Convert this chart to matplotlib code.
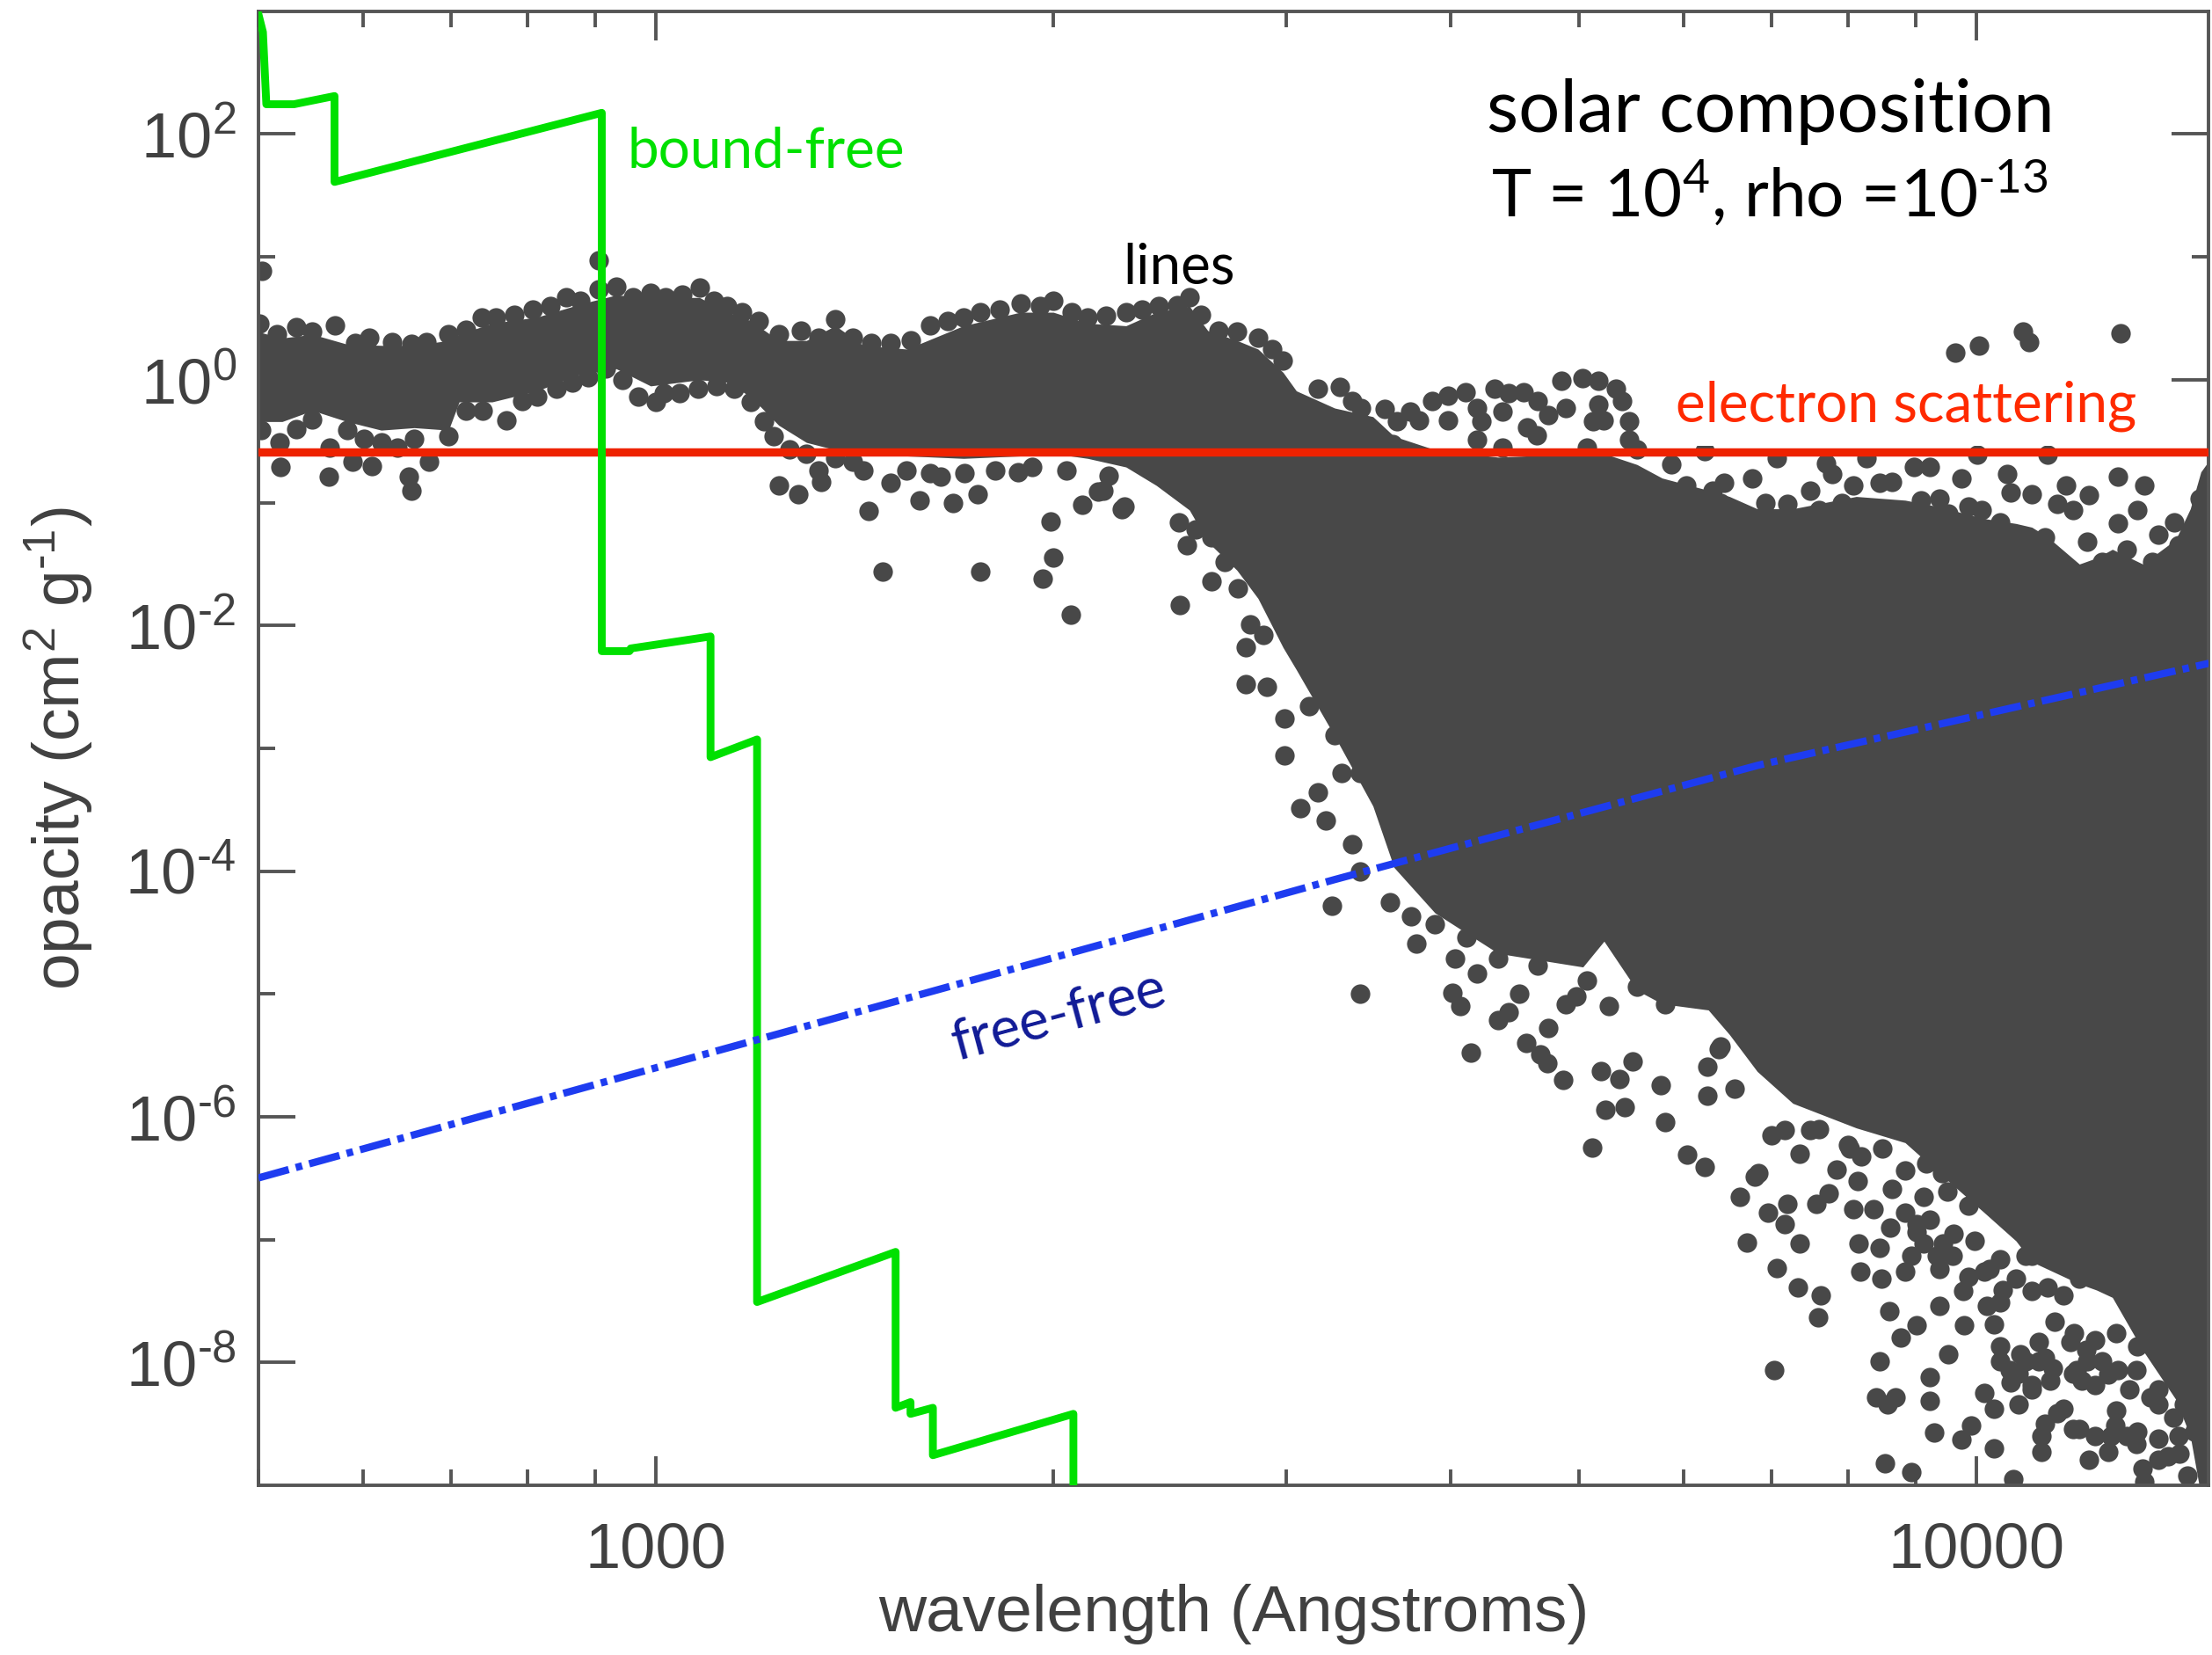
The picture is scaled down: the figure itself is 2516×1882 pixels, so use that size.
import numpy as np
import matplotlib
matplotlib.use('Agg')
from matplotlib import pyplot as plt
from matplotlib import ticker

plt.rcParams['font.family'] = ['Liberation Sans', 'DejaVu Sans']
plt.rcParams['mathtext.fontset'] = 'custom'
plt.rcParams['mathtext.rm'] = 'Liberation Sans'
plt.rcParams['mathtext.default'] = 'regular'

# electron scattering opacity (cm^2/g)
kappa_es = 0.26

# free-free opacity along the curve
ff_lam = [500, 858, 2338, 3265, 6836, 15000]
ff_kappa = [3.18e-7, 1.59e-6, 3.14e-5, 8.53e-5, 7.28e-4, 4.92e-3]

# bound-free opacity: corners of the edge staircase
bf_lam = [500, 504, 507, 532, 571, 571, 910, 910, 955, 957, 1100, 1100,
          1193, 1193, 1519, 1519, 1559, 1559, 1621, 1621, 2071, 2071]
bf_kappa = [950, 676, 175, 175, 204, 40.8, 149, 6.18e-3, 6.18e-3, 6.5e-3,
            8.14e-3, 8.47e-4, 1.18e-3, 3.11e-8, 7.95e-8, 4.28e-9, 4.76e-9,
            3.82e-9, 4.28e-9, 1.76e-9, 3.82e-9, 1e-10]

# line opacity: the solid core of the point cloud (log10 lambda, log10 kappa)
core_loglam = [2.699, 2.717, 2.740, 2.766, 2.792, 2.817, 2.843, 2.851, 2.876, 2.910,
               2.944, 2.970, 2.996, 3.033, 3.054, 3.072, 3.093, 3.114, 3.136, 3.157,
               3.190, 3.233, 3.276, 3.301, 3.327, 3.356, 3.379, 3.404, 3.418, 3.440,
               3.456, 3.475, 3.485, 3.514, 3.543, 3.559, 3.590, 3.638, 3.702, 3.718,
               3.743, 3.762, 3.797, 3.813, 3.834, 3.861, 3.909, 3.946, 3.970, 4.006,
               4.030, 4.042, 4.054, 4.078, 4.091, 4.103, 4.126, 4.151, 4.162, 4.170,
               4.180]
core_logtop = [0.39, 0.34, 0.37, 0.29, 0.28, 0.28, 0.32, 0.37, 0.46, 0.51,
               0.62, 0.69, 0.67, 0.67, 0.55, 0.48, 0.32, 0.32, 0.44, 0.28,
               0.25, 0.44, 0.55, 0.55, 0.46, 0.44, 0.55, 0.60, 0.40, 0.32,
               0.25, 0.06, -0.09, -0.23, -0.30, -0.46, -0.57, -0.63, -0.60, -0.60,
               -0.69, -0.80, -0.90, -0.95, -1.05, -1.05, -0.95, -0.98, -1.03, -1.13,
               -1.17, -1.20, -1.28, -1.50, -1.45, -1.38, -1.50, -1.30, -1.05, -0.75,
               -0.60]
core_logbot = [-0.34, -0.34, -0.25, -0.34, -0.41, -0.39, -0.41, -0.18, -0.18, -0.09,
               0.05, 0.09, -0.05, 0.00, -0.02, -0.14, -0.37, -0.51, -0.57, -0.60,
               -0.62, -0.64, -0.62, -0.60, -0.64, -0.71, -0.86, -1.06, -1.32, -1.55,
               -1.78, -2.18, -2.36, -2.90, -3.47, -3.97, -4.34, -4.67, -4.78, -4.57,
               -4.97, -5.08, -5.13, -5.33, -5.63, -5.89, -6.09, -6.21, -6.44, -6.78,
               -7.01, -7.18, -7.24, -7.36, -7.41, -7.47, -7.90, -8.30, -8.60, -9.08,
               -9.08]

# individual lines around the core (log10 lambda, log10 kappa)
band_top = [
    [2.702, 0.89], [2.700, 0.46], [2.713, 0.37], [2.728, 0.43], [2.740, 0.39], [2.757, 0.44],
    [2.772, 0.30], [2.783, 0.34], [2.800, 0.31], [2.815, 0.29], [2.826, 0.31], [2.843, 0.37],
    [2.856, 0.41], [2.868, 0.51], [2.879, 0.51], [2.893, 0.53], [2.907, 0.57], [2.920, 0.60],
    [2.932, 0.67], [2.943, 0.64], [2.957, 0.74], [2.970, 0.76], [2.983, 0.67], [2.996, 0.71],
    [3.007, 0.67], [3.020, 0.69], [3.033, 0.75], [3.044, 0.64], [3.054, 0.60], [3.065, 0.55],
    [3.078, 0.48], [3.093, 0.37], [3.110, 0.40], [3.123, 0.34], [3.136, 0.49], [3.149, 0.34],
    [3.163, 0.30], [3.178, 0.30], [3.193, 0.32], [3.208, 0.44], [3.221, 0.48], [3.233, 0.51],
    [3.246, 0.55], [3.260, 0.57], [3.276, 0.62], [3.291, 0.60], [3.301, 0.64], [3.315, 0.55],
    [3.327, 0.51], [3.341, 0.52], [3.356, 0.55], [3.368, 0.57], [3.381, 0.60], [3.395, 0.61],
    [3.404, 0.67], [3.413, 0.53], [3.426, 0.40], [3.440, 0.39], [3.456, 0.34], [3.467, 0.25],
    [3.475, 0.16], [2.957, 0.97]]

band_bottom = [
    [2.701, -0.41], [2.716, -0.71], [2.715, -0.51], [2.728, -0.40], [2.740, -0.32], [2.753, -0.55],
    [2.752, -0.79], [2.766, -0.41], [2.770, -0.67], [2.779, -0.48], [2.785, -0.70], [2.792, -0.51],
    [2.804, -0.55], [2.813, -0.79], [2.815, -0.90], [2.817, -0.48], [2.828, -0.67], [2.843, -0.46],
    [2.856, -0.25], [2.869, -0.25], [2.887, -0.33], [2.899, -0.17], [2.910, -0.14], [2.925, -0.07],
    [2.937, -0.02], [2.949, 0.02], [2.962, 0.09], [2.975, 0.00], [2.987, -0.14], [3.000, -0.18],
    [3.006, -0.11], [3.018, -0.11], [3.032, -0.07], [3.046, -0.05], [3.059, -0.07], [3.072, -0.18],
    [3.082, -0.34], [3.089, -0.46], [3.093, -0.86], [3.101, -0.57], [3.108, -0.93], [3.114, -0.60],
    [3.123, -0.74], [3.125, -0.83], [3.136, -0.64], [3.149, -0.67], [3.161, -1.07], [3.157, -0.74],
    [3.172, -1.56], [3.178, -0.84], [3.190, -0.74], [3.200, -0.98], [3.208, -0.76], [3.216, -0.79],
    [3.225, -1.00], [3.234, -0.76], [3.244, -0.93], [3.246, -1.56], [3.257, -0.74], [3.274, -0.75],
    [3.285, -0.71], [3.293, -1.62], [3.299, -1.15], [3.301, -1.45], [3.314, -1.91], [3.311, -0.74],
    [3.323, -1.02], [3.335, -0.91], [3.343, -0.78], [3.353, -1.05]]

drop_edge = [
    [3.393, -0.87], [3.396, -1.16], [3.409, -0.97], [3.402, -1.35], [3.421, -1.64], [3.397, -1.83],
    [3.441, -1.70], [3.450, -1.99], [3.447, -2.18], [3.460, -2.08], [3.447, -2.48], [3.463, -2.50],
    [3.476, -2.76], [3.476, -3.06], [3.495, -2.66], [3.514, -2.89], [3.519, -3.20], [3.488, -3.49],
    [3.507, -3.59], [3.527, -3.78], [3.533, -4.00], [3.533, -3.20], [3.501, -3.36], [3.421, -1.28],
    [3.431, -1.48], [3.355, -1.03], [3.339, -0.90], [3.409, -1.22]]

cloud_top = [
    [3.501, -0.07], [3.527, -0.17], [3.552, -0.24], [3.571, -0.26], [3.578, -0.33], [3.600, -0.13],
    [3.613, -0.10], [3.600, -0.33], [3.622, -0.23], [3.635, -0.07], [3.641, -0.26], [3.657, -0.10],
    [3.660, -0.39], [3.676, -0.29], [3.667, -0.45], [3.686, -0.01], [3.702, 0.01], [3.714, -0.01],
    [3.727, -0.07], [3.714, -0.20], [3.718, -0.33], [3.737, -0.34], [3.737, -0.49], [3.705, -0.55],
    [3.622, -0.49], [3.641, -0.55], [3.558, -0.52], [3.543, -0.45], [3.794, -0.58],
    [3.518, -0.06], [3.534, -0.23], [3.561, -0.34], [3.588, -0.17], [3.625, -0.34], [3.646, -0.11],
    [3.668, -0.17], [3.689, -0.23], [3.710, -0.34], [3.732, -0.17], [3.743, -0.57], [3.769, -0.69],
    [3.780, -0.86],
    [3.546, -0.71], [3.571, -0.77], [3.587, -0.90], [3.584, -0.68], [3.616, -0.90], [3.622, -1.03],
    [3.648, -0.84], [3.654, -1.03], [3.680, -0.77], [3.673, -0.93], [3.702, -0.84], [3.718, -0.74],
    [3.730, -0.93], [3.749, -0.84], [3.753, -1.06], [3.775, -1.06], [3.788, -1.03], [3.800, -0.90],
    [3.810, -1.03], [3.762, -1.28], [3.794, -1.28], [3.813, -1.22], [3.680, -1.12],
    [3.849, -0.64], [3.886, -0.68], [3.891, -0.77], [3.874, -0.90], [3.840, -1.00], [3.806, -1.00],
    [3.898, -1.00], [3.917, -0.64], [3.927, -0.84], [3.941, -1.09], [3.953, -0.71], [3.965, -0.71],
    [3.972, -0.97], [4.001, -0.61], [4.023, -0.77], [4.042, -0.93], [4.054, -0.61], [4.107, -0.79],
    [4.107, -1.17], [4.073, -1.06], [4.004, -1.06], [4.018, -1.16], [4.150, -1.16], [4.169, -0.97],
    [3.984, 0.22], [4.002, 0.28], [4.035, 0.39], [4.040, 0.31], [4.109, 0.38],
    [3.862, -1.19], [3.838, -1.28], [3.816, -1.25], [3.903, -1.22], [3.936, -1.35], [3.958, -1.16],
    [3.979, -1.09], [3.996, -1.35], [4.013, -1.28], [4.035, -1.35], [4.052, -1.28], [4.066, -1.54],
    [4.073, -1.70], [4.071, -1.92], [4.095, -1.48], [4.114, -1.38], [4.121, -1.60], [4.133, -1.48],
    [4.143, -1.76], [4.153, -1.35], [4.090, -1.76], [4.056, -1.86], [4.102, -1.92],
    [3.809, -0.84], [3.830, -0.80], [3.907, -0.86], [3.936, -0.83], [3.989, -0.80], [4.026, -0.92],
    [4.068, -0.86], [3.857, -1.01], [3.881, -1.06], [3.915, -1.09], [3.958, -0.98], [3.994, -1.03],
    [4.061, -1.01], [4.085, -0.94], [4.122, -1.06], [4.138, -1.26], [4.084, -1.32], [4.127, -0.86]]

cloud_bottom = [
    [3.512, -4.28], [3.533, -5.00], [3.576, -4.59], [3.605, -4.71], [3.603, -4.99], [3.609, -5.10],
    [3.617, -5.48], [3.622, -4.83], [3.638, -5.21], [3.646, -5.15], [3.654, -5.00], [3.659, -5.40],
    [3.670, -5.49], [3.675, -5.56], [3.676, -5.28], [3.687, -5.70], [3.689, -5.08], [3.697, -5.02],
    [3.705, -4.89], [3.709, -6.25], [3.716, -5.63], [3.719, -5.94], [3.722, -5.10], [3.730, -5.69],
    [3.734, -5.92], [3.740, -5.55], [3.761, -5.74], [3.764, -6.04], [3.781, -6.31], [3.794, -6.41],
    [3.796, -5.83], [3.796, -5.59], [3.805, -5.45], [3.821, -6.65], [3.826, -7.02], [3.832, -6.49],
    [3.556, -4.25], [3.572, -4.37], [3.590, -4.43], [3.614, -4.54], [3.638, -4.71], [3.668, -4.77],
    [3.743, -4.94], [3.764, -5.08],
    [3.806, -5.43], [3.835, -6.46], [3.842, -6.78], [3.847, -8.06], [3.849, -7.23], [3.855, -6.11],
    [3.855, -6.87], [3.857, -6.71], [3.865, -7.39], [3.866, -6.30], [3.866, -7.03], [3.874, -6.11],
    [3.880, -7.63], [3.882, -7.45], [3.879, -6.71], [3.888, -6.62], [3.894, -6.43], [3.903, -6.23],
    [3.907, -6.75], [3.911, -7.03], [3.912, -7.26], [3.910, -6.52], [3.922, -6.75], [3.927, -7.07],
    [3.928, -7.32], [3.927, -7.99], [3.924, -8.28], [3.933, -8.34], [3.931, -8.82], [3.934, -7.58],
    [3.936, -6.59], [3.939, -8.28], [3.943, -7.80], [3.946, -7.26], [3.951, -8.89], [3.955, -7.70],
    [3.955, -6.87], [3.960, -7.03], [3.960, -6.65], [3.965, -8.12], [3.965, -8.31], [3.968, -8.57],
    [3.972, -7.54], [3.979, -7.93], [3.982, -7.13], [3.989, -8.63], [3.990, -7.42], [3.991, -7.70],
    [3.996, -8.51], [4.006, -8.25], [4.008, -7.54], [4.013, -8.70], [4.013, -7.69], [4.025, -8.06],
    [4.028, -8.95], [4.032, -8.34], [4.037, -7.99], [4.052, -7.96], [4.049, -8.60], [4.049, -8.73],
    [4.059, -7.67], [4.066, -8.38], [4.073, -8.54], [4.076, -8.06], [4.080, -8.15], [4.085, -8.79],
    [4.090, -8.60], [4.100, -8.73], [4.105, -8.51], [4.114, -8.60], [4.126, -8.86], [4.138, -8.34],
    [4.145, -8.76], [4.157, -8.09], [4.160, -8.92],
    [3.817, -5.77], [3.892, -5.93], [3.970, -6.30], [4.006, -6.55], [4.042, -7.13], [4.095, -7.15],
    [4.126, -7.26],
    [4.074, -7.76], [4.090, -7.82], [4.106, -7.76], [4.122, -7.87], [4.138, -7.93], [4.154, -8.05],
    [4.084, -7.99], [4.100, -8.10], [4.116, -8.22], [4.132, -8.28], [4.149, -8.45], [4.106, -8.39],
    [4.122, -8.56], [4.138, -8.62], [4.154, -8.74], [4.165, -8.56], [4.127, -8.97], [4.018, -7.87],
    [4.033, -7.93], [4.047, -7.83], [4.026, -8.16], [4.042, -8.22], [4.058, -8.05],
    [3.913, -6.32], [3.929, -6.26], [3.946, -6.44], [3.962, -6.38], [3.978, -6.61], [3.994, -6.72],
    [3.935, -6.90], [3.983, -6.95], [3.999, -7.01], [4.010, -7.24], [4.020, -7.41], [3.994, -7.30],
    [3.972, -7.24],
    [3.904, -6.26], [3.946, -6.78], [3.955, -6.94], [3.951, -7.13], [3.965, -6.84], [3.970, -7.13],
    [3.975, -7.03], [3.974, -6.46], [3.984, -6.43], [3.994, -6.49], [4.006, -7.26], [4.018, -7.16],
    [4.030, -7.32], [4.037, -7.13], [4.042, -7.42], [4.018, -7.51], [4.054, -7.39], [4.066, -7.45],
    [4.078, -7.32], [4.090, -7.26], [4.018, -7.99], [4.032, -8.09], [4.047, -7.99], [4.056, -8.15],
    [4.042, -8.18], [4.071, -7.83], [4.083, -7.90], [4.095, -7.99], [4.107, -8.06], [4.073, -8.09],
    [4.090, -8.18], [4.121, -7.64], [4.133, -7.83], [4.143, -7.99], [4.155, -8.12], [4.121, -8.06],
    [4.138, -8.22], [4.157, -8.34], [4.078, -8.54], [4.102, -8.60], [4.121, -8.66], [4.138, -8.79],
    [4.153, -8.60], [4.013, -8.38], [4.052, -8.50], [4.061, -8.41], [3.845, -6.15], [3.881, -6.10]]

dot_color = '#484848'
axis_color = '#555555'
label_color = '#404040'


def power_label(v, pos):
    e = int(round(np.log10(v)))
    if e < 0:
        return r'$10^{\text{-}%d}$' % -e
    return r'$10^{%d}$' % e


fig = plt.figure(figsize=(12.58, 9.41), dpi=200)
ax = fig.add_axes([0.1168, 0.1025, 0.8818, 0.8907])
ax.set_xscale('log')
ax.set_yscale('log')

# line opacity
ax.fill_between(10 ** np.array(core_loglam), 10 ** np.array(core_logbot),
                10 ** np.array(core_logtop), color=dot_color, lw=0, zorder=1.9)
for group in (band_top, band_bottom, drop_edge, cloud_top, cloud_bottom):
    pts = np.array(group)
    ax.scatter(10 ** pts[:, 0], 10 ** pts[:, 1], s=64, color=dot_color,
               linewidths=0, zorder=2)

ax.axhline(kappa_es, color='#ee2200', lw=3.4, zorder=3)
ax.plot(bf_lam, bf_kappa, color='#00e000', lw=3.2, zorder=3.5)
ax.plot(ff_lam, ff_kappa, color='#1e3cf0', lw=3.0, zorder=4,
        dashes=(4.3, 1.0, 0.9, 1.0), solid_capstyle='butt', dash_capstyle='butt')

ax.set_xlim(500, 15000)
ax.set_ylim(1e-9, 1e3)

ax.xaxis.set_major_locator(ticker.FixedLocator([1000, 10000]))
ax.xaxis.set_major_formatter(ticker.FuncFormatter(lambda v, p: '%d' % v))
ax.xaxis.set_minor_locator(ticker.LogLocator(base=10, subs=np.arange(2, 10)))
ax.xaxis.set_minor_formatter(ticker.NullFormatter())
ax.yaxis.set_major_locator(ticker.FixedLocator([1e-8, 1e-6, 1e-4, 1e-2, 1, 1e2]))
ax.yaxis.set_major_formatter(ticker.FuncFormatter(power_label))
ax.yaxis.set_minor_locator(ticker.FixedLocator([1e-7, 1e-5, 1e-3, 1e-1, 10]))
ax.yaxis.set_minor_formatter(ticker.NullFormatter())

ax.tick_params(which='both', direction='in', top=True, right=True,
               color=axis_color, width=1.4, labelcolor=label_color)
ax.tick_params(axis='y', which='major', length=15, pad=9, labelsize=26)
ax.tick_params(axis='y', which='minor', length=7)
ax.tick_params(axis='x', which='major', length=12, pad=15, labelsize=26)
ax.tick_params(axis='x', which='minor', length=6.5)
for sp in ax.spines.values():
    sp.set_color(axis_color)
    sp.set_linewidth(1.4)

ax.set_xlabel('wavelength (Angstroms)', fontsize=27, color=label_color)
ax.xaxis.set_label_coords(0.5, -0.0665)
ax.set_ylabel(r'opacity (cm$^{2}$ g$^{\text{-}1}$)', fontsize=27, color=label_color)
ax.yaxis.set_label_coords(-0.084, 0.5)

note_font = ['Lato', 'DejaVu Sans']
ax.text(0.7753, 0.918, 'solar composition', transform=ax.transAxes,
        fontsize=30, family=note_font, ha='center', va='baseline', color='black')
ax.text(0.7748, 0.861, r'T = 10$^{4}$, rho =10$^{\text{-}13}$', transform=ax.transAxes,
        fontsize=27.5, family=note_font, ha='center', va='baseline', color='black')
ax.text(0.189, 0.894, 'bound-free', transform=ax.transAxes, fontsize=23,
        family=note_font, ha='left', va='baseline', color='#00e000')
ax.text(0.4432, 0.8152, 'lines', transform=ax.transAxes, fontsize=23,
        family=note_font, ha='left', va='baseline', color='black')
ax.text(0.7266, 0.7216, 'electron scattering', transform=ax.transAxes, fontsize=23,
        family=note_font, ha='left', va='baseline', color='#ff2a00', zorder=2.5,
        bbox=dict(boxstyle='square,pad=0.25', facecolor='white', edgecolor='none'))
ax.text(0.358, 0.2884, 'free-free', transform=ax.transAxes, fontsize=23,
        family=note_font, ha='left', va='baseline', color='#101a96',
        rotation=15, rotation_mode='anchor')

fig.savefig('out.png', dpi=200)
